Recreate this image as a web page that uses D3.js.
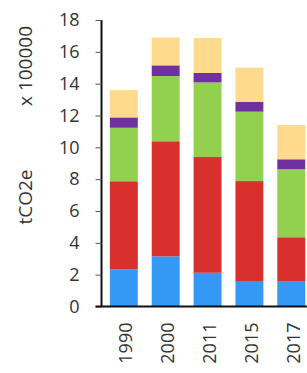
<!DOCTYPE html>
<html>
<head>
<meta charset="utf-8">
<script src="https://cdn.jsdelivr.net/npm/d3@7"></script>
<style>
  body { margin: 0; background: #fff; }
  svg { display: block; }
  .lbl { font-family: "Open Sans", sans-serif; fill: #333; }
</style>
</head>
<body>
<script>
// data, tCO2e x 100000
const years = ["1990", "2000", "2011", "2015", "2017"]
const seriesNames = ["blue", "red", "green", "purple", "yellow"]
const blueVals = [2.34, 3.15, 2.12, 1.60, 1.56]
const redVals = [5.53, 7.23, 7.27, 6.28, 2.79]
const greenVals = [3.36, 4.10, 4.69, 4.36, 4.27]
const purpleVals = [0.65, 0.67, 0.59, 0.61, 0.63]
const yellowVals = [1.72, 1.75, 2.20, 2.15, 2.15]
const yTicks = [0, 2, 4, 6, 8, 10, 12, 14, 16, 18]

const Colors = ["#3399f5", "#d8302c", "#92d050", "#7030a0", "#ffd98c"]

const W = 307
const H = 373
const AxisX = 101.5
const BaseY = 306.5
const TopY = 20
const FontSize = 18

const rows = years.map((yr, i) => ({
    year: yr,
    blue: blueVals[i],
    red: redVals[i],
    green: greenVals[i],
    purple: purpleVals[i],
    yellow: yellowVals[i]
}))

const stacked = d3.stack().keys(seriesNames)(rows)

const svg = d3.select("body").append("svg")
    .attr("width", W)
    .attr("height", H)

const x = d3.scaleBand()
    .domain(years)
    .range([AxisX, AxisX + 42 * 5.05])
    .paddingInner(0.333)
    .paddingOuter(0.2)

const y = d3.scaleLinear()
    .domain([0, 18])
    .range([BaseY, TopY])

// bars
svg.append("g")
    .selectAll("g")
    .data(stacked)
    .join("g")
        .attr("fill", (d, i) => Colors[i])
    .selectAll("rect")
    .data(d => d)
    .join("rect")
        .attr("x", d => x(d.data.year))
        .attr("y", d => y(d[1]))
        .attr("width", x.bandwidth())
        .attr("height", d => y(d[0]) - y(d[1]))

// y axis
const yAxis = svg.append("g")
    .attr("transform", "translate(" + AxisX + ",0)")
    .call(d3.axisLeft(y).tickValues(yTicks).tickSize(6).tickPadding(16))
yAxis.select(".domain").attr("stroke", "#111").attr("stroke-width", 2)
    .attr("d", "M0," + TopY + "V" + BaseY)
yAxis.selectAll(".tick line").attr("stroke", "#555").attr("stroke-width", 1)
yAxis.selectAll("text")
    .attr("class", "lbl")
    .attr("font-size", FontSize + "px")

// x axis
const xAxis = svg.append("g")
    .attr("transform", "translate(0," + BaseY + ")")
    .call(d3.axisBottom(x).tickSize(0))
xAxis.select(".domain").attr("stroke", "#111").attr("stroke-width", 2)
    .attr("d", "M" + (AxisX - 6) + ",0H" + W)
xAxis.selectAll("text")
    .attr("class", "lbl")
    .attr("font-size", FontSize + "px")
    .attr("text-anchor", "end")
    .attr("x", -16)
    .attr("y", 2)
    .attr("dy", "0.35em")
    .attr("transform", "rotate(-90)")

// axis titles
svg.append("text")
    .attr("class", "lbl")
    .attr("font-size", "19px")
    .attr("text-anchor", "middle")
    .attr("transform", "translate(32,197) rotate(-90)")
    .text("tCO2e")

svg.append("text")
    .attr("class", "lbl")
    .attr("font-size", "19px")
    .attr("text-anchor", "middle")
    .attr("transform", "translate(32,66) rotate(-90)")
    .text("x 100000")
</script>
</body>
</html>
